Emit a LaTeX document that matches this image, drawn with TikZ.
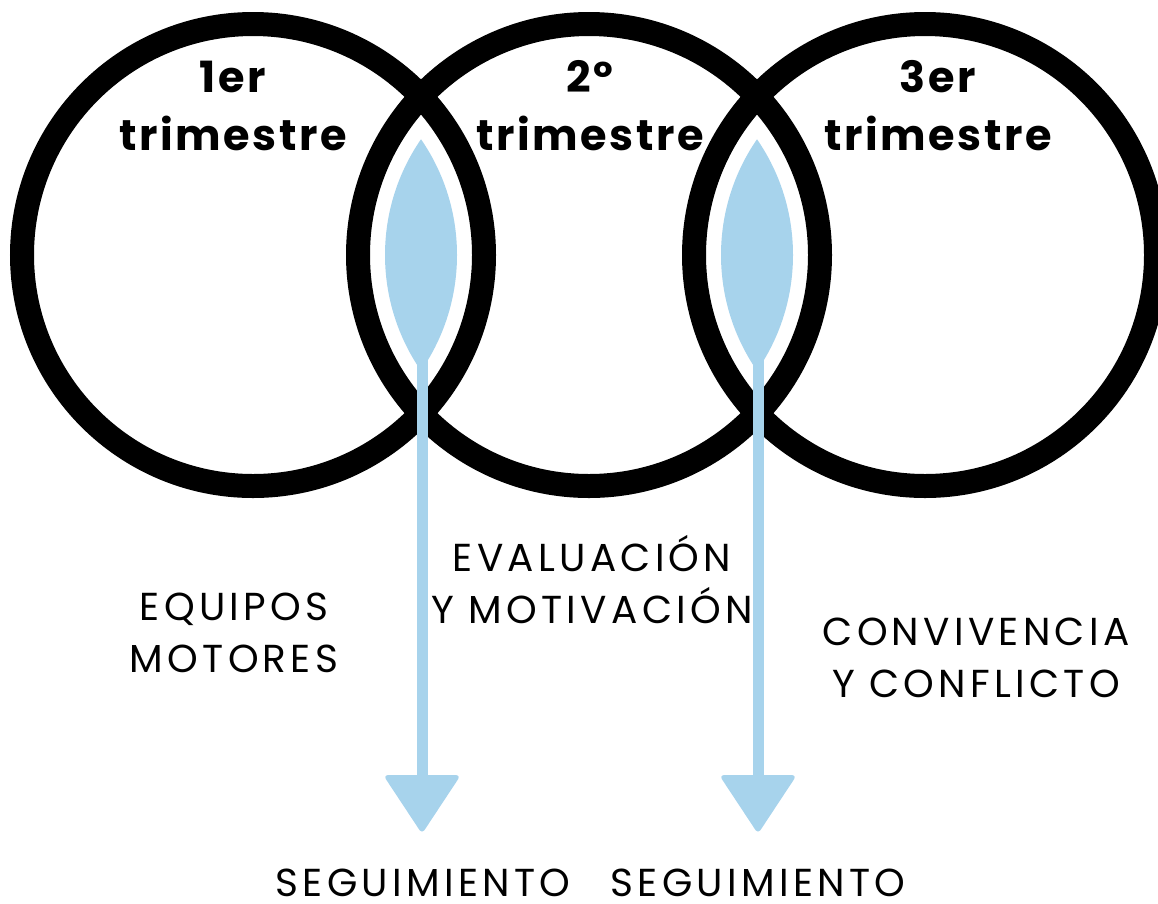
\documentclass[tikz,border=0pt]{standalone}
\usepackage{fontspec}
\newfontfamily\titlefont{Poppins}[LetterSpace=6]
\newfontfamily\labelfont{Poppins}[LetterSpace=11]
\definecolor{lensblue}{RGB}{167,211,236}
\tikzset{
  ring/.style={draw=black, line width=24pt},
  lens/.style={fill=lensblue},
  stem/.style={draw=lensblue, line width=11pt},
  head/.style={fill=lensblue, draw=lensblue, line width=2pt, rounded corners=3pt, line join=round},
  ttl/.style={anchor=base, inner sep=0pt, font=\titlefont\bfseries\fontsize{43}{50}\selectfont},
  lbl/.style={anchor=base, inner sep=0pt, font=\labelfont\fontsize{39}{45}\selectfont},
}
\begin{document}
\begin{tikzpicture}[x=1pt,y=-1pt]
\useasboundingbox (0,0) rectangle (1158,903);
\coordinate (c1) at (253,255);
\coordinate (c2) at (589,255);
\coordinate (c3) at (925,255);
% rings
\draw[ring] (c1) circle (231);
\draw[ring] (c2) circle (231);
\draw[ring] (c3) circle (231);
% lenses
\begin{scope}
  \clip (c1) circle (204);
  \fill[lens] (c2) circle (204);
\end{scope}
\begin{scope}
  \clip (c2) circle (204);
  \fill[lens] (c3) circle (204);
\end{scope}
% arrows
\coordinate (s1) at (422,350);
\coordinate (e1) at (422,780);
\coordinate (s2) at (758,350);
\coordinate (e2) at (758,780);
\draw[stem] (s1) -- (e1);
\draw[stem] (s2) -- (e2);
\filldraw[head] ([xshift=-37pt]e1 |- 0,776) -- ([xshift=37pt]e1 |- 0,776) -- (422,832) -- cycle;
\filldraw[head] ([xshift=-37pt]e2 |- 0,776) -- ([xshift=37pt]e2 |- 0,776) -- (758,832) -- cycle;
% titles
\node[ttl] (t1a) at (233,92) {1er};
\node[ttl] (t1b) at (233,150) {trimestre};
\node[ttl] (t2a) at (590,92) {2º};
\node[ttl] (t2b) at (590,150) {trimestre};
\node[ttl] (t3a) at (938,92) {3er};
\node[ttl] (t3b) at (938,150) {trimestre};
% labels
\node[lbl] (l1a) at (234,620) {EQUIPOS};
\node[lbl] (l1b) at (234,672) {MOTORES};
\node[lbl] (l2a) at (592,571) {EVALUACIÓN};
\node[lbl] (l2b) at (592,623) {Y MOTIVACIÓN};
\node[lbl] (l3a) at (976,645) {CONVIVENCIA};
\node[lbl] (l3b) at (976,697) {Y CONFLICTO};
\node[lbl] (g1) at (423,896) {SEGUIMIENTO};
\node[lbl] (g2) at (758,896) {SEGUIMIENTO};
\end{tikzpicture}
\end{document}
